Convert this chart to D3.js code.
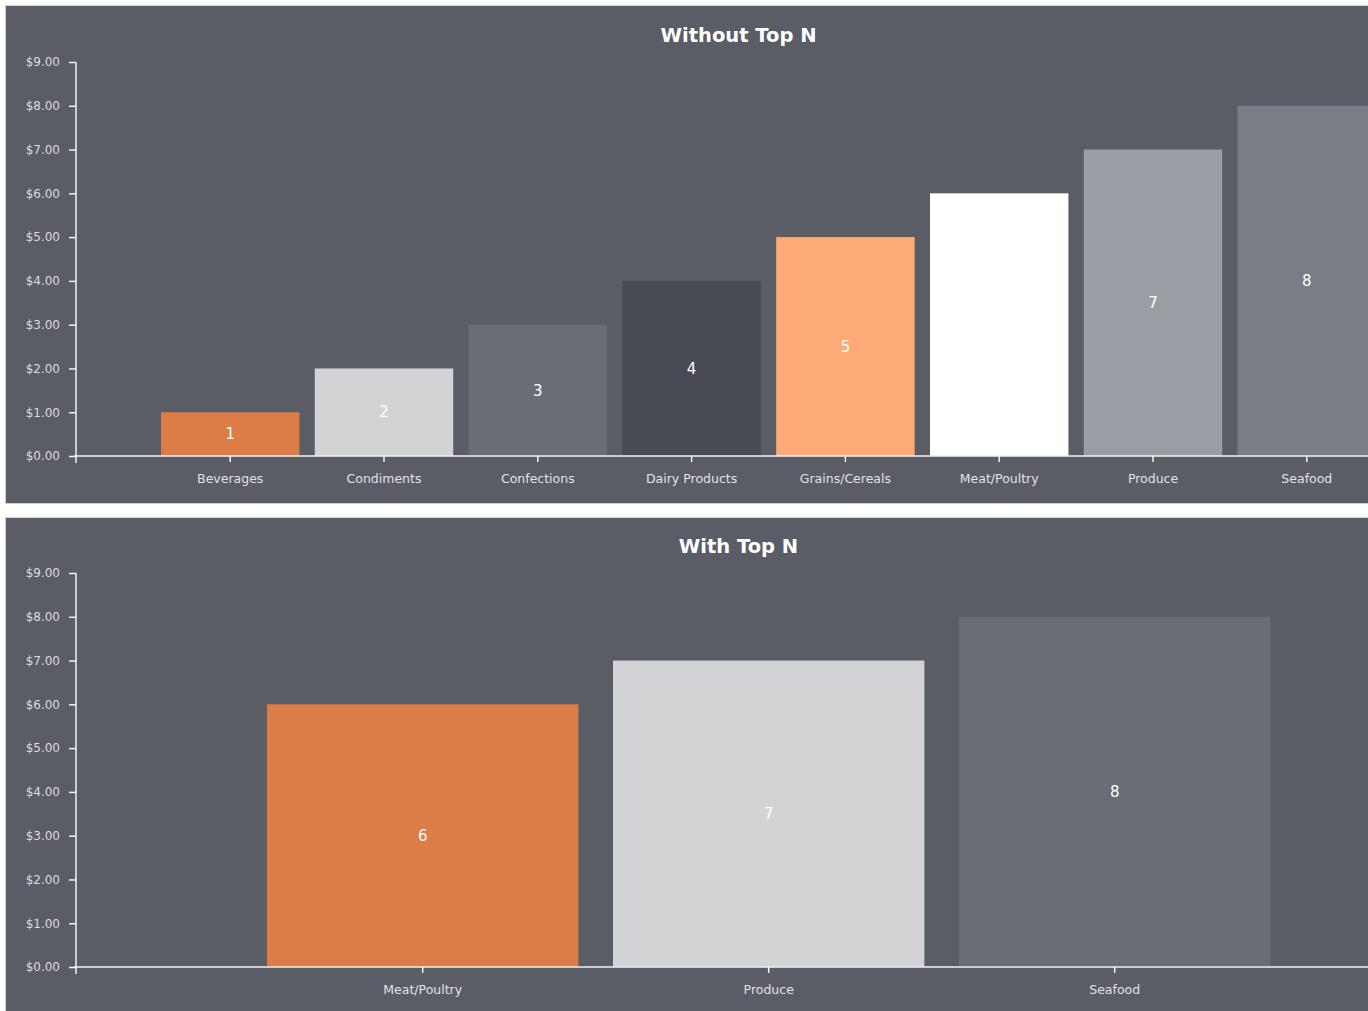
<!DOCTYPE html>
<html>
<head>
<meta charset="utf-8">
<script src="https://cdn.jsdelivr.net/npm/d3@7"></script>
<style>
  html, body { margin: 0; padding: 0; background: #ffffff; }
  svg { display: block; }
  text { font-family: "DejaVu Sans", Verdana, sans-serif; }
</style>
</head>
<body>
<svg id="chart" width="1368" height="1011"></svg>
<script>
// ---- data ----
const topTitle = "Without Top N";
const topCategories = ["Beverages", "Condiments", "Confections", "Dairy Products", "Grains/Cereals", "Meat/Poultry", "Produce", "Seafood"];
const topValues = [1, 2, 3, 4, 5, 6, 7, 8];
const topColors = ["#dc7c47", "#d3d3d5", "#6b6d76", "#494b54", "#fdaa76", "#ffffff", "#9b9da5", "#7b7d86"];

const bottomTitle = "With Top N";
const bottomCategories = ["Meat/Poultry", "Produce", "Seafood"];
const bottomValues = [6, 7, 8];
const bottomColors = ["#dc7c47", "#d3d3d5", "#6b6d76"];

const yTicks = [0, 1, 2, 3, 4, 5, 6, 7, 8, 9];
const yMax = 9;

// ---- drawing ----
const svg = d3.select("#chart");
const panelFill = "#5a5c66";

function drawPanel(cfg) {
  const g = svg.append("g");
  g.append("rect")
    .attr("x", 5.5).attr("y", cfg.top + 0.5)
    .attr("width", 1370).attr("height", cfg.height)
    .attr("fill", panelFill)
    .attr("stroke", "#cfd0d4").attr("stroke-width", 1);

  g.append("text")
    .attr("x", 738.5).attr("y", cfg.titleY)
    .attr("text-anchor", "middle")
    .attr("font-size", 19.5).attr("font-weight", "bold")
    .attr("fill", "#ffffff")
    .text(cfg.title);

  const y = d3.scaleLinear().domain([0, yMax]).range([cfg.y0, cfg.y1]);
  const x = d3.scaleBand().domain(cfg.categories).range(cfg.xRange)
    .paddingInner(0.1).paddingOuter(0.05);
  const axisX = 76;

  // bars
  g.selectAll("rect.bar").data(cfg.values).enter().append("rect")
    .attr("class", "bar")
    .attr("x", (d, i) => x(cfg.categories[i]))
    .attr("y", d => y(d))
    .attr("width", x.bandwidth())
    .attr("height", d => y(0) - y(d))
    .attr("fill", (d, i) => cfg.colors[i]);

  // value labels
  g.selectAll("text.val").data(cfg.values).enter().append("text")
    .attr("class", "val")
    .attr("x", (d, i) => x(cfg.categories[i]) + x.bandwidth() / 2)
    .attr("y", d => (y(d) + y(0)) / 2)
    .attr("dy", "0.35em")
    .attr("text-anchor", "middle")
    .attr("font-size", 15)
    .attr("fill", "#ffffff")
    .text(d => d);

  // y axis
  const yAxis = d3.axisLeft(y).tickValues(yTicks).tickSize(7).tickSizeOuter(0)
    .tickPadding(9).tickFormat(d => "$" + d.toFixed(2));
  const ya = g.append("g").attr("transform", `translate(${axisX},0)`).call(yAxis);
  ya.select(".domain").remove();
  ya.selectAll(".tick line").attr("stroke", "#f2f2f2").attr("stroke-width", 1.5);
  ya.selectAll(".tick text").attr("fill", "#dcdcdf").attr("font-size", 12)
    .attr("font-family", "DejaVu Sans, sans-serif");
  g.append("line")
    .attr("x1", axisX).attr("x2", axisX)
    .attr("y1", y(yMax)).attr("y2", y(0) + 7)
    .attr("stroke", "#f2f2f2").attr("stroke-width", 1.5);

  // x axis
  const xAxis = d3.axisBottom(x).tickSize(6).tickSizeOuter(0).tickPadding(12);
  const xa = g.append("g").attr("transform", `translate(0,${y(0)})`).call(xAxis);
  xa.select(".domain").remove();
  xa.selectAll(".tick line").attr("stroke", "#f2f2f2").attr("stroke-width", 1.5);
  xa.selectAll(".tick text").attr("fill", "#e2e2e4").attr("font-size", 12.5)
    .attr("font-family", "DejaVu Sans, sans-serif");
  g.append("line")
    .attr("x1", axisX - 2).attr("x2", 1368)
    .attr("y1", y(0)).attr("y2", y(0))
    .attr("stroke", "#f2f2f2").attr("stroke-width", 1.5);
}

drawPanel({
  top: 5, height: 498, titleY: 42, title: topTitle,
  y0: 456, y1: 62, xRange: [153.3, 1383.7],
  categories: topCategories, values: topValues, colors: topColors
});

drawPanel({
  top: 517, height: 500, titleY: 553, title: bottomTitle,
  y0: 967, y1: 573, xRange: [249.7, 1287.7],
  categories: bottomCategories, values: bottomValues, colors: bottomColors
});
</script>
</body>
</html>
